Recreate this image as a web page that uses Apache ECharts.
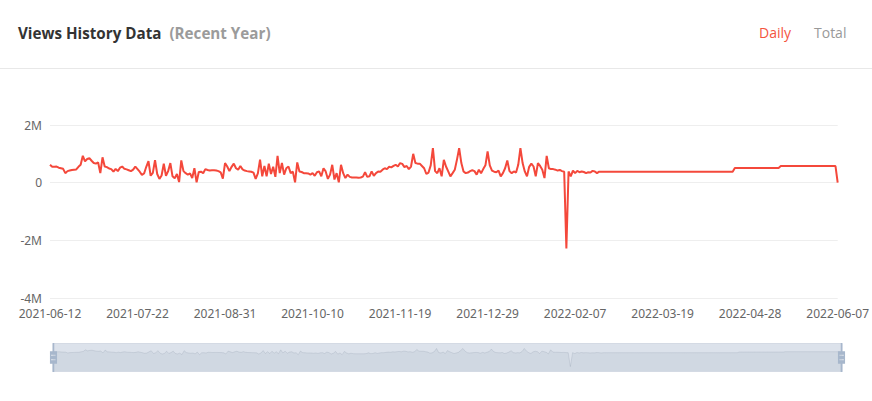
<!DOCTYPE html>
<html>
<head>
<meta charset="utf-8">
<script src="https://cdn.jsdelivr.net/npm/echarts@6/dist/echarts.min.js"></script>
<style>
html,body{margin:0;padding:0;background:#fff;}
#chart{width:872px;height:401px;}
</style>
</head>
<body>
<div id="chart"></div>
<script>
// ---- data ----
var startDate = '2021-06-12';
var dayCount = 361;
var yTicks = [-4000000, -2000000, 0, 2000000];
var dailyViews = [
  620000, 550000, 550000, 560000, 520000, 500000, 480000, 330000, 400000, 420000,
  440000, 450000, 460000, 550000, 620000, 930000, 740000, 820000, 850000, 760000,
  680000, 660000, 700000, 330000, 880000, 560000, 540000, 490000, 470000, 380000,
  480000, 400000, 520000, 560000, 480000, 460000, 430000, 400000, 450000, 560000,
  470000, 380000, 270000, 320000, 550000, 750000, 240000, 340000, 780000, 300000,
  130000, 250000, 660000, 240000, 400000, 680000, 220000, 150000, 300000, 20000,
  770000, 400000, 330000, 280000, 320000, 160000, 500000, 10000, 370000, 380000,
  330000, 470000, 440000, 420000, 430000, 430000, 420000, 400000, 360000, 140000,
  680000, 560000, 400000, 550000, 660000, 500000, 450000, 580000, 460000, 420000,
  400000, 390000, 380000, 350000, 130000, 320000, 800000, 220000, 580000, 220000,
  660000, 300000, 550000, 200000, 930000, 330000, 680000, 280000, 500000, 560000,
  330000, 380000, 10000, 700000, 390000, 370000, 330000, 330000, 320000, 280000,
  330000, 240000, 360000, 390000, 220000, 500000, 390000, 130000, 280000, 620000,
  110000, 330000, 10000, 620000, 330000, 160000, 280000, 200000, 180000, 180000,
  180000, 170000, 180000, 210000, 360000, 200000, 220000, 390000, 240000, 330000,
  390000, 380000, 450000, 500000, 470000, 550000, 530000, 580000, 620000, 560000,
  680000, 650000, 540000, 580000, 470000, 560000, 1000000, 680000, 660000, 660000,
  580000, 500000, 300000, 350000, 600000, 1200000, 400000, 330000, 500000, 220000,
  790000, 560000, 390000, 220000, 330000, 450000, 800000, 1200000, 680000, 390000,
  330000, 350000, 400000, 430000, 400000, 280000, 450000, 330000, 470000, 600000,
  1080000, 600000, 420000, 380000, 360000, 420000, 220000, 330000, 500000, 770000,
  400000, 330000, 390000, 350000, 620000, 1200000, 680000, 390000, 220000, 550000,
  660000, 560000, 220000, 680000, 580000, 450000, 160000, 930000, 500000, 470000,
  470000, 450000, 420000, 440000, 400000, 380000, -2280000, 390000, 220000, 420000,
  330000, 410000, 360000, 390000, 370000, 330000, 360000, 350000, 410000, 390000,
  330000, 380000, 380000, 380000, 380000, 380000, 380000, 380000, 380000, 380000,
  380000, 380000, 380000, 380000, 380000, 380000, 380000, 380000, 380000, 380000,
  380000, 380000, 380000, 380000, 380000, 380000, 380000, 380000, 380000, 380000,
  380000, 380000, 380000, 380000, 380000, 380000, 380000, 380000, 380000, 380000,
  380000, 380000, 380000, 380000, 380000, 380000, 380000, 380000, 380000, 380000,
  380000, 380000, 380000, 380000, 380000, 380000, 380000, 380000, 380000, 380000,
  380000, 380000, 380000, 510000, 510000, 510000, 510000, 510000, 510000, 510000,
  510000, 510000, 510000, 510000, 510000, 510000, 510000, 510000, 510000, 510000,
  510000, 510000, 510000, 510000, 575000, 575000, 575000, 575000, 575000, 575000,
  575000, 575000, 575000, 575000, 575000, 575000, 575000, 575000, 575000, 575000,
  575000, 575000, 575000, 575000, 575000, 575000, 575000, 575000, 575000, 575000,
  0
];
var titleText = 'Views History Data';
var subTitleText = '(Recent Year)';
var toggleLabels = ['Daily', 'Total'];

// ---- build categories ----
function pad(n){ return n < 10 ? '0' + n : '' + n; }
var categories = [];
(function(){
  var p = startDate.split('-');
  var t = Date.UTC(+p[0], +p[1] - 1, +p[2]);
  for (var i = 0; i < dayCount; i++) {
    var d = new Date(t + i * 86400000);
    categories.push(d.getUTCFullYear() + '-' + pad(d.getUTCMonth() + 1) + '-' + pad(d.getUTCDate()));
  }
})();

var handleIconV4 = 'path://M8.2,13.6V3.9H6.3v9.7H3.1v14.9h3.3v9.7h1.8v-9.7h3.3V13.6H8.2z M9.7,24.4H4.8v-1.4h4.9V24.4z M9.7,19.1H4.8v-1.4h4.9V19.1z';

var chart = echarts.init(document.getElementById('chart'), null, {renderer: 'svg'});
var option = {
  animation: false,
  backgroundColor: '#fff',
  title: {
    left: 13,
    top: 19,
    text: '{a|' + titleText + '} {b|' + subTitleText + '}',
    textStyle: {
      rich: {
        a: {fontFamily: 'Open Sans', fontWeight: 'bold', fontSize: 15.2, color: '#333333'},
        b: {fontFamily: 'Open Sans', fontWeight: 'bold', fontSize: 15.2, color: '#9b9b9b', padding: [0, 0, 0, 3]}
      }
    }
  },
  graphic: [
    {type: 'line', shape: {x1: 0, y1: 68.5, x2: 872, y2: 68.5}, style: {stroke: '#e8e8e8', lineWidth: 1}},
    {type: 'text', left: 759, top: 25, style: {text: toggleLabels[0], fill: '#f4543e', font: '14px "Open Sans"'}},
    {type: 'text', left: 814, top: 25, style: {text: toggleLabels[1], fill: '#999999', font: '14px "Open Sans"'}}
  ],
  grid: {left: 50, right: 34, top: 125, bottom: 103},
  xAxis: {
    type: 'category',
    boundaryGap: false,
    data: categories,
    axisLine: {show: false},
    axisTick: {show: false},
    axisLabel: {interval: 39, color: '#666', fontSize: 12, fontFamily: 'Noto Sans', margin: 9, lineHeight: 13}
  },
  yAxis: {
    type: 'value',
    min: yTicks[0],
    max: yTicks[yTicks.length - 1],
    interval: 2000000,
    axisLine: {show: false},
    axisTick: {show: false},
    splitLine: {lineStyle: {color: '#eeeeee'}},
    axisLabel: {
      color: '#666', fontSize: 12, fontFamily: 'Noto Sans', margin: 8, lineHeight: 13,
      formatter: function(v){ return v === 0 ? '0' : (v / 1000000) + 'M'; }
    }
  },
  dataZoom: [{
    type: 'slider',
    left: 50,
    right: 32,
    bottom: 29,
    height: 29,
    showDetail: false,
    brushSelect: false,
    moveHandleSize: 0,
    backgroundColor: 'rgba(47,69,84,0)',
    borderColor: '#d4dae4',
    fillerColor: 'rgba(167,183,204,0.4)',
    dataBackground: {
      lineStyle: {color: '#2f4554', width: 0.5, opacity: 0.3},
      areaStyle: {color: 'rgba(47,69,84,0.3)', opacity: 0.3}
    },
    selectedDataBackground: {
      lineStyle: {color: '#2f4554', width: 0.5, opacity: 0.3},
      areaStyle: {color: 'rgba(47,69,84,0.3)', opacity: 0.3}
    },
    handleIcon: handleIconV4,
    handleSize: '100%',
    handleStyle: {color: '#a7b7cc', borderColor: '#a7b7cc', borderWidth: 0},
    emphasis: {handleStyle: {color: '#a7b7cc', borderColor: '#a7b7cc'}},
    start: 0,
    end: 100
  }],
  series: [{
    type: 'line',
    data: dailyViews,
    showSymbol: false,
    lineStyle: {color: '#f4483b', width: 2},
    itemStyle: {color: '#f4483b'}
  }]
};
chart.setOption(option);
</script>
</body>
</html>
